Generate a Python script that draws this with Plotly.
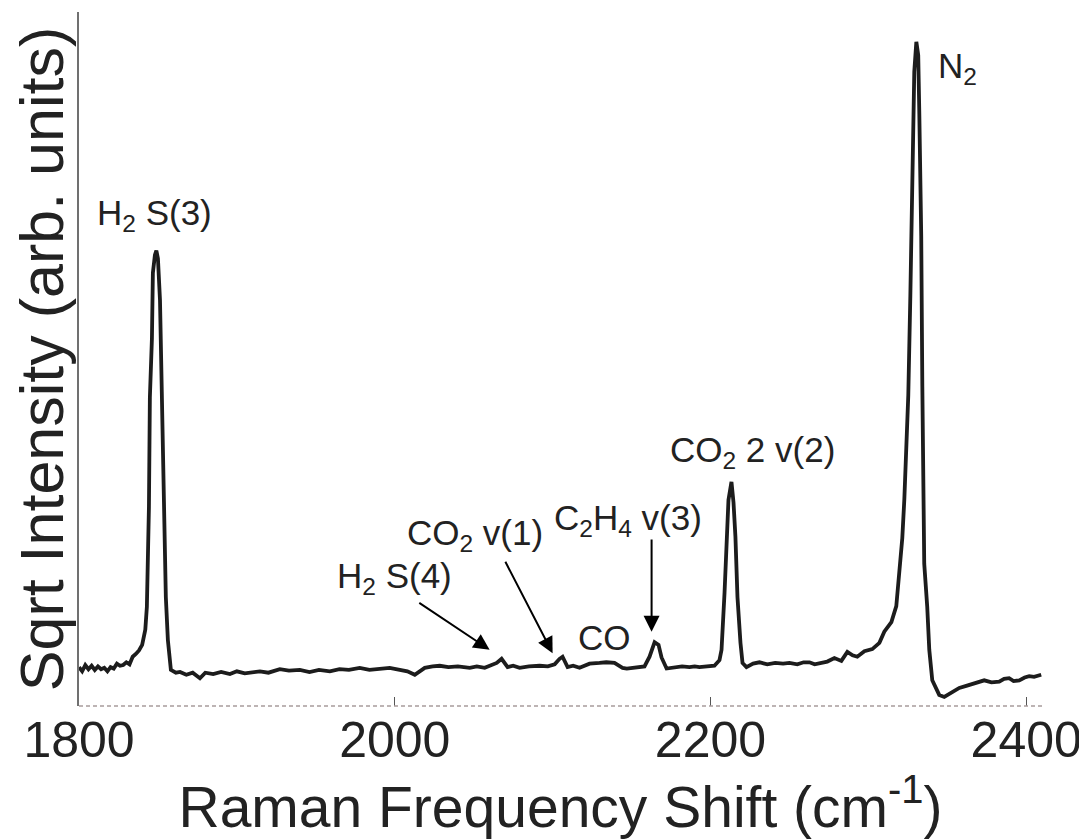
import plotly.graph_objects as go

# Raman shift (cm^-1)
raman_shift = [1800, 1802, 1804, 1806, 1808, 1810, 1812, 1814, 1816, 1818, 1820, 1822, 1824, 1826, 1828,
               1830, 1832, 1834, 1836, 1838, 1840, 1842, 1843, 1844.3, 1844.9, 1846.2, 1846.8, 1848.1, 1849,
               1850, 1851.3, 1852.5, 1853.8, 1855, 1856.3, 1858.2, 1861.4, 1864, 1868, 1872, 1876.6, 1880,
               1885, 1890, 1895.6, 1900, 1905, 1910, 1914.6, 1920, 1927.2, 1933, 1939.9, 1946, 1952, 1958.9,
               1965, 1971, 1977.8, 1984, 1990, 1996.8, 2003.2, 2008, 2012.7, 2016, 2019, 2024, 2028.5, 2034,
               2040, 2047.5, 2052, 2057, 2061, 2064.6, 2067.7, 2071.5, 2075, 2079.1, 2085, 2091.8, 2097,
               2101.3, 2104.4, 2106.3, 2109.5, 2113, 2117.1, 2120, 2123.4, 2129.7, 2134, 2139.2, 2144.3, 2147,
               2150.6, 2155, 2158.2, 2161.4, 2164.6, 2167.1, 2169, 2172.2, 2177.2, 2182, 2186.7, 2190, 2193,
               2197, 2202.5, 2205.7, 2207, 2208.9, 2210.1, 2211.4, 2213.3, 2214.6, 2215.8, 2217.1, 2219,
               2220.3, 2222.8, 2227, 2231, 2236, 2241, 2246, 2250, 2255, 2259, 2262.7, 2266, 2269, 2274,
               2278.5, 2282.9, 2286.7, 2290, 2293, 2297.5, 2302.5, 2307, 2310.1, 2314.6, 2317.7, 2319.6,
               2321.5, 2322.8, 2324.1, 2325.3, 2326.6, 2327.2, 2328.5, 2329.1, 2330.4, 2331.6, 2332.3,
               2333.5, 2334.2, 2334.8, 2335.4, 2337.3, 2338.6, 2340.5, 2344.9, 2348.1, 2352, 2357.6, 2362,
               2367, 2373.4, 2378, 2382.9, 2386, 2389.2, 2392, 2395.6, 2399, 2401.9, 2405, 2409.5]

# Square-root intensity (arbitrary units)
sqrt_intensity = [5.6, 5.0, 5.9, 5.3, 5.8, 5.2, 5.7, 5.3, 5.5, 5.0, 5.6, 5.4, 6.1, 5.8, 5.9,
                  6.3, 6.0, 7.1, 7.5, 8.0, 8.8, 11.0, 14.3, 28.7, 44.5, 53.0, 62.4, 65.0, 65.6,
                  64.5, 58.5, 42.0, 31.6, 15.7, 9.5, 5.2, 4.8, 4.9, 4.5, 4.8, 4.0, 4.8,
                  4.6, 4.9, 4.6, 5.0, 4.7, 4.9, 5.0, 4.8, 5.3, 5.1, 5.2, 4.9, 5.2, 5.0,
                  5.3, 5.2, 5.5, 5.2, 5.4, 5.5, 5.2, 5.0, 4.5, 5.0, 5.5, 5.7, 5.8, 5.6,
                  5.7, 5.5, 5.7, 5.5, 5.9, 6.2, 6.8, 5.6, 5.8, 5.5, 5.7, 5.8, 5.7,
                  6.0, 6.8, 7.1, 5.6, 5.8, 5.5, 5.8, 6.1, 6.2, 6.3, 6.2, 5.5, 5.4,
                  5.5, 5.6, 5.7, 7.1, 9.2, 8.8, 7.0, 5.4, 5.6, 5.7, 5.6, 5.7, 5.6,
                  5.7, 5.8, 6.6, 8.1, 16.3, 22.0, 29.7, 32.3, 29.3, 24.4, 15.7, 9.1,
                  6.2, 5.6, 6.1, 6.3, 6.0, 6.2, 6.1, 6.2, 6.0, 6.3, 6.3, 6.0, 6.2, 6.4,
                  6.9, 6.5, 7.8, 7.3, 7.1, 7.9, 8.2, 9.1, 10.7, 12.1, 14.4, 19.9,
                  24.2, 29.8, 39.2, 44.8, 59.1, 67.7, 84.4, 91.4, 95.7, 93.8, 85.2,
                  67.7, 46.0, 36.0, 20.5, 14.3, 8.1, 3.7, 1.6, 1.3, 1.9, 2.6, 2.9,
                  3.3, 3.7, 3.4, 3.5, 3.9, 4.0, 3.6, 3.7, 4.1, 4.3, 4.2, 4.5]

tick_values = [1800, 2000, 2200, 2400]
tick_labels = ["1800", "2000", "2200", "2400"]

# Peak labels: text, x (left edge), y (centre)
label_texts = ["H<sub>2</sub> S(3)", "N<sub>2</sub>", "CO<sub>2</sub> 2 v(2)", "CO<sub>2</sub> v(1)",
               "C<sub>2</sub>H<sub>4</sub> v(3)", "H<sub>2</sub> S(4)", "CO"]
label_x = [1810.1, 2343.0, 2172.8, 2006.3, 2099.4, 1962.0, 2114.6]
label_y = [70.7, 91.9, 36.6, 24.6, 26.8, 18.4, 9.8]

# Arrows: tail (x, y) -> tip (x, y)
arrow_tail_x = [2014.6, 2069.6, 2162.7]
arrow_tail_y = [15.0, 21.0, 24.2]
arrow_tip_x = [2060.1, 2100.0, 2162.7]
arrow_tip_y = [8.1, 7.6, 10.7]

FONT = "Liberation Sans, Arial, sans-serif"

fig = go.Figure()
fig.add_trace(go.Scatter(x=raman_shift, y=sqrt_intensity, mode="lines",
                         line=dict(color="#1c1c1c", width=3.8), showlegend=False,
                         hoverinfo="x+y"))

for t, x, y in zip(label_texts, label_x, label_y):
    fig.add_annotation(x=x, y=y, xref="x", yref="y", text=t, showarrow=False,
                       xanchor="left", yanchor="middle",
                       font=dict(family=FONT, size=35, color="#222222"))

for tx, ty, hx, hy in zip(arrow_tail_x, arrow_tail_y, arrow_tip_x, arrow_tip_y):
    fig.add_annotation(x=hx, y=hy, ax=tx, ay=ty, xref="x", yref="y", axref="x", ayref="y",
                       text="", showarrow=True, arrowhead=2, arrowsize=1.6, arrowwidth=2,
                       arrowcolor="#000000", standoff=0, startstandoff=0)

# dashed bottom axis line
fig.add_shape(type="line", xref="paper", yref="paper", x0=0, x1=1, y0=0, y1=0,
              line=dict(color="#a89c9c", width=1.5, dash="4px,3px"))

fig.update_layout(
    width=1079, height=831,
    margin=dict(l=71, r=45, t=4, b=133),
    paper_bgcolor="white", plot_bgcolor="white",
    font=dict(family=FONT, color="#222222"),
    xaxis=dict(range=[1800, 2410], tickvals=tick_values, ticktext=tick_labels,
               ticks="inside", ticklen=9, tickwidth=1, tickcolor="#555555",
               showgrid=False, zeroline=False, showline=False,
               tickfont=dict(family=FONT, size=50, color="#222222"),
               title=dict(text="Raman Frequency Shift (cm<sup>-1</sup>)",
                          font=dict(family=FONT, size=57, color="#222222"), standoff=10),
               automargin=False),
    yaxis=dict(range=[0, 100], showticklabels=False, ticks="", showgrid=False,
               zeroline=False, showline=True, linecolor="#707070", linewidth=1.5,
               title=dict(text="Sqrt Intensity (arb. units)",
                          font=dict(family=FONT, size=61, color="#222222"), standoff=9),
               automargin=False),
)

fig.write_html("out.html")
